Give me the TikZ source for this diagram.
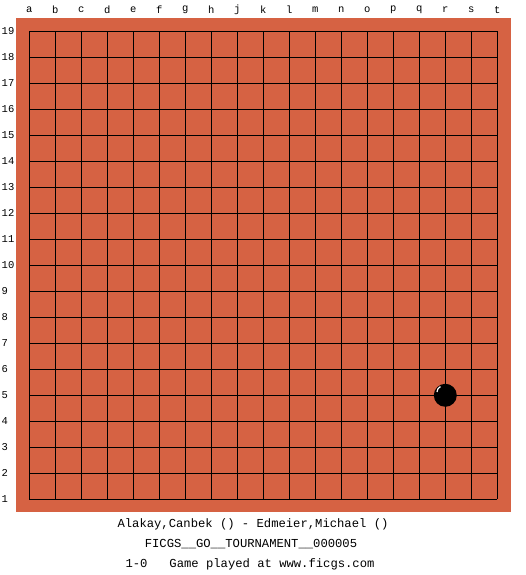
\documentclass[tikz,border=0pt]{standalone}
\usepackage{fontspec}
\setmonofont{Liberation Mono}
\definecolor{board}{HTML}{D66243}
\begin{document}
\begin{tikzpicture}[x=1pt,y=-1pt,
  gridline/.style={line width=1.3pt,black},
  lbl/.style={font=\ttfamily\fontsize{10.5}{10.5}\selectfont,inner sep=0pt},
  info/.style={font=\ttfamily\fontsize{12.2}{12.2}\selectfont,inner sep=0pt},
  stone/.style={circle,fill=black,minimum size=23pt,inner sep=0pt}]
\useasboundingbox (0,0) rectangle (525,575);
\fill[white] (0,0) rectangle (525,575);
\fill[board] (16,18) rectangle (511,512);
\foreach \i in {0,...,18} {
  \draw[gridline] (29.3+26*\i,31.3) -- (29.3+26*\i,499.3);
  \draw[gridline] (29.3,31.3+26*\i) -- (497.3,31.3+26*\i);
}
\foreach \l [count=\i from 0] in {a,b,c,d,e,f,g,h,j,k,l,m,n,o,p,q,r,s,t}
  \node[lbl] (col\l) at (29.3+26*\i,10) {\l};
\foreach \n in {1,...,19}
  \node[lbl,anchor=west] (row\n) at (1.5,499.3-26*\n+26) {\n};
\node[stone] (r5) at (445.3,395.3) {};
\draw[white,line width=1.2pt] (437,392) arc[start angle=180,end angle=115,radius=6pt];
\node[info] (players) at (253,524) {Alakay,Canbek () - Edmeier,Michael ()};
\node[info] (event) at (251,544) {FICGS\_\_GO\_\_TOURNAMENT\_\_000005};
\node[info] (result) at (250,564) {1-0\ \ \ Game played at www.ficgs.com};
\end{tikzpicture}
\end{document}
